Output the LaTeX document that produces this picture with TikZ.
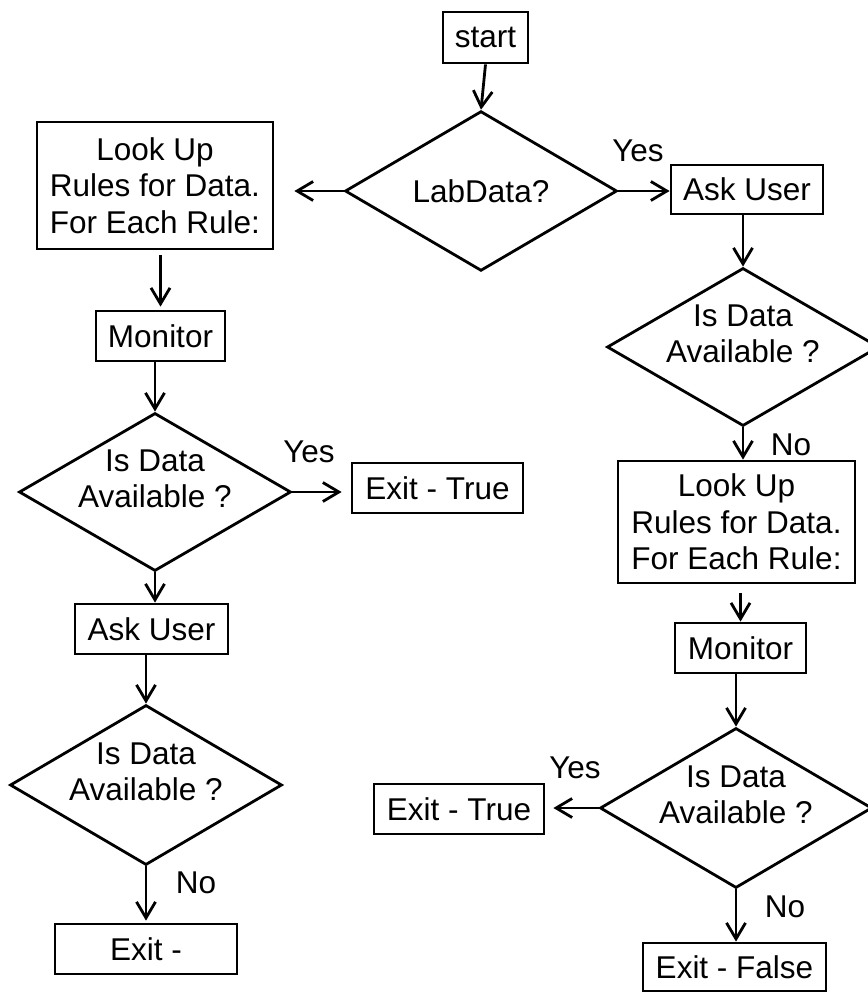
\documentclass[tikz,border=0pt]{standalone}
\usepackage{fontspec}
\setmainfont{Liberation Sans}
\usetikzlibrary{shapes.geometric}
\usetikzlibrary{arrows.meta}

\begin{document}
\begin{tikzpicture}[
    x=1pt, y=-1pt,
    line width=2.8pt,
    font=\fontsize{31.5}{36.5}\selectfont,
    box/.style={draw,rectangle,inner sep=0pt,align=center},
    decision/.style={draw,diamond,inner sep=0pt,minimum width=272pt,minimum height=158pt},
    qtext/.style={align=center,yshift=13pt},
    arr/.style={-{Straight Barb[length=16pt,width=19pt]}}
    ]
    \useasboundingbox (0,0) rectangle (867,992);

    \node[box, minimum width=85pt, minimum height=51pt] (start) at (485.5,37.5) {start};
    \node[decision, minimum height=156pt] (lab) at (481,191) {LabData?};

    % left branch
    \node[box, minimum width=236pt, minimum height=127pt] (look1) at (155,185.5) {Look Up\\Rules for Data.\\For Each Rule:};
    \node[box, minimum width=129pt, minimum height=50pt] (mon1) at (160.5,336) {Monitor};
    \node[decision, label={[qtext]center:Is Data\\Available ?}] (avail1) at (155,492) {};
    \node[box, minimum width=171pt, minimum height=50pt] (true1) at (437.5,488) {Exit - True};
    \node[box, minimum width=153pt, minimum height=50pt] (ask1) at (151.5,629) {Ask User};
    \node[decision, minimum height=160pt, label={[qtext]center:Is Data\\Available ?}] (avail2) at (146,785) {};
    \node[box, minimum width=182pt, minimum height=50pt] (exit1) at (146,949) {Exit -};

    % right branch
    \node[box, minimum width=152pt, minimum height=49pt] (ask2) at (747,189.5) {Ask User};
    \node[decision, label={[qtext]center:Is Data\\Available ?}] (avail3) at (743,347) {};
    \node[box, minimum width=237pt, minimum height=122pt] (look2) at (736.5,522) {Look Up\\Rules for Data.\\For Each Rule:};
    \node[box, minimum width=131pt, minimum height=50pt] (mon2) at (740.5,648) {Monitor};
    \node[decision, minimum height=160pt, label={[qtext]center:Is Data\\Available ?}] (avail4) at (736,808) {};
    \node[box, minimum width=170pt, minimum height=50pt] (true2) at (459,809) {Exit - True};
    \node[box, minimum width=183pt, minimum height=48pt] (exitno) at (734.5,967) {Exit - False};

    \node (yes1) at (638,151) {Yes};
    \node (yes2) at (309,452) {Yes};
    \node (no1) at (791,445) {No};
    \node (no2) at (196,883) {No};
    \node (yes3) at (575,768) {Yes};
    \node (no3) at (785,907) {No};

    \path (start.south) edge[arr] (lab.north)
    (lab.west) edge[arr, shorten >=20pt] (lab.west -| look1.east)
    (lab.east) edge[arr] (lab.east -| ask2.west)
    (look1.south -| mon1.north) edge[arr, shorten <=5pt, shorten >=3pt] (mon1.north)
    (avail1.north |- mon1.south) edge[arr] (avail1.north)
    (avail1.east) edge[arr, shorten >=9pt] (avail1.east -| true1.west)
    (avail1.south) edge[arr] (avail1.south |- ask1.north)
    (avail2.north |- ask1.south) edge[arr] (avail2.north)
    (avail2.south) edge[arr, shorten >=2pt] (exit1.north)
    (avail3.north |- ask2.south) edge[arr] (avail3.north)
    (avail3.south) edge[arr] (avail3.south |- look2.north)
    (look2.south -| mon2.north) edge[arr, shorten <=9pt] (mon2.north)
    (avail4.north |- mon2.south) edge[arr] (avail4.north)
    (avail4.west) edge[arr, shorten >=8pt] (avail4.west -| true2.east)
    (avail4.south) edge[arr] (avail4.south |- exitno.north)
    ;

\end{tikzpicture}
\end{document}
